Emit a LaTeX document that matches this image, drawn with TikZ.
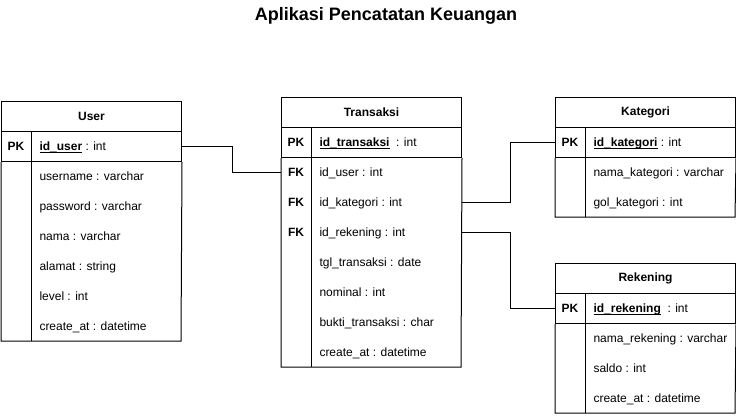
\documentclass[tikz,border=0pt]{standalone}
\usepackage{fontspec}
\setmainfont{Liberation Sans}
\newcommand\pkname[1]{\setbox0\hbox{\bfseries #1}\rlap{\rule[-2.4pt]{\wd0}{0.9pt}}\box0\relax}
\begin{document}
\begin{tikzpicture}[x=1pt,y=-1pt,line width=1pt,
	head/.style={draw,minimum width=180pt,minimum height=30pt,inner sep=0pt,anchor=north west,font=\fontsize{12}{14}\selectfont\bfseries},
	keyrow/.style={draw,minimum width=180pt,minimum height=30pt,inner sep=0pt,anchor=north west},
	row/.style={minimum width=180pt,minimum height=30pt,inner sep=0pt,anchor=north west},
	key/.style={inner sep=0pt,text height=8.6pt,text depth=0pt,font=\fontsize{12}{14}\selectfont\bfseries},
	fld/.style={anchor=west,inner sep=0pt,text height=8.6pt,text depth=0pt,font=\fontsize{12}{14}\selectfont}]
	\useasboundingbox (0,0) rectangle (736,415);
	\node[font=\fontsize{18}{21}\selectfont\bfseries] (title) at (386,16) {Aplikasi Pencatatan Keuangan};
	
	\node[head] (user) at (1,101) {User};
	\node[keyrow] (userid) at (1,131) {};
	\draw (userid.south west) -- (1,341) -- (181,341) -- (userid.south east);
	\draw (31,131) -- (31,341);
	\node[key] (userpk) at (16,146) {PK};
	\node[fld] (u0) at (39,146) {\pkname{id\_user} : int};
	\node[fld] (u1) at (39,176) {username : varchar};
	\node[fld] (u2) at (39,206) {password : varchar};
	\node[fld] (u3) at (39,236) {nama : varchar};
	\node[fld] (u4) at (39,266) {alamat : string};
	\node[fld] (u5) at (39,296) {level : int};
	\node[fld] (u6) at (39,326) {create\_at : datetime};
	
	\node[head] (trans) at (281,97) {Transaksi};
	\node[keyrow] (transid) at (281,127) {};
	\node[row] (transuser) at (281,157) {};
	\node[row] (transkat) at (281,187) {};
	\node[row] (transrek) at (281,217) {};
	\draw (transid.south west) -- (281,367) -- (461,367) -- (transid.south east);
	\draw (311,127) -- (311,367);
	\node[key] (transpk) at (296,142) {PK};
	\node[key] (transfk1) at (296,172) {FK};
	\node[key] (transfk2) at (296,202) {FK};
	\node[key] (transfk3) at (296,232) {FK};
	\node[fld] (t0) at (319,142) {\pkname{id\_transaksi}\ \ : int};
	\node[fld] (t1) at (319,172) {id\_user : int};
	\node[fld] (t2) at (319,202) {id\_kategori : int};
	\node[fld] (t3) at (319,232) {id\_rekening : int};
	\node[fld] (t4) at (319,262) {tgl\_transaksi : date};
	\node[fld] (t5) at (319,292) {nominal : int};
	\node[fld] (t6) at (319,322) {bukti\_transaksi : char};
	\node[fld] (t7) at (319,352) {create\_at : datetime};
	
	\node[head] (kat) at (555,97) {Kategori};
	\node[keyrow] (katid) at (555,127) {};
	\draw (katid.south west) -- (555,217) -- (735,217) -- (katid.south east);
	\draw (585,127) -- (585,217);
	\node[key] (katpk) at (570,142) {PK};
	\node[fld] (k0) at (593,142) {\pkname{id\_kategori} : int};
	\node[fld] (k1) at (593,172) {nama\_kategori : varchar};
	\node[fld] (k2) at (593,202) {gol\_kategori : int};
	
	\node[head] (rek) at (555,263) {Rekening};
	\node[keyrow] (rekid) at (555,293) {};
	\draw (rekid.south west) -- (555,413) -- (735,413) -- (rekid.south east);
	\draw (585,293) -- (585,413);
	\node[key] (rekpk) at (570,308) {PK};
	\node[fld] (r0) at (593,308) {\pkname{id\_rekening}\ \ : int};
	\node[fld] (r1) at (593,338) {nama\_rekening : varchar};
	\node[fld] (r2) at (593,368) {saldo : int};
	\node[fld] (r3) at (593,398) {create\_at : datetime};
	
	\draw (userid.east) -- ++(50,0) |- (transuser.west);
	\draw (transkat.east) -- ++(48,0) |- (katid.west);
	\draw (transrek.east) -- ++(48,0) |- (rekid.west);
\end{tikzpicture}
\end{document}
